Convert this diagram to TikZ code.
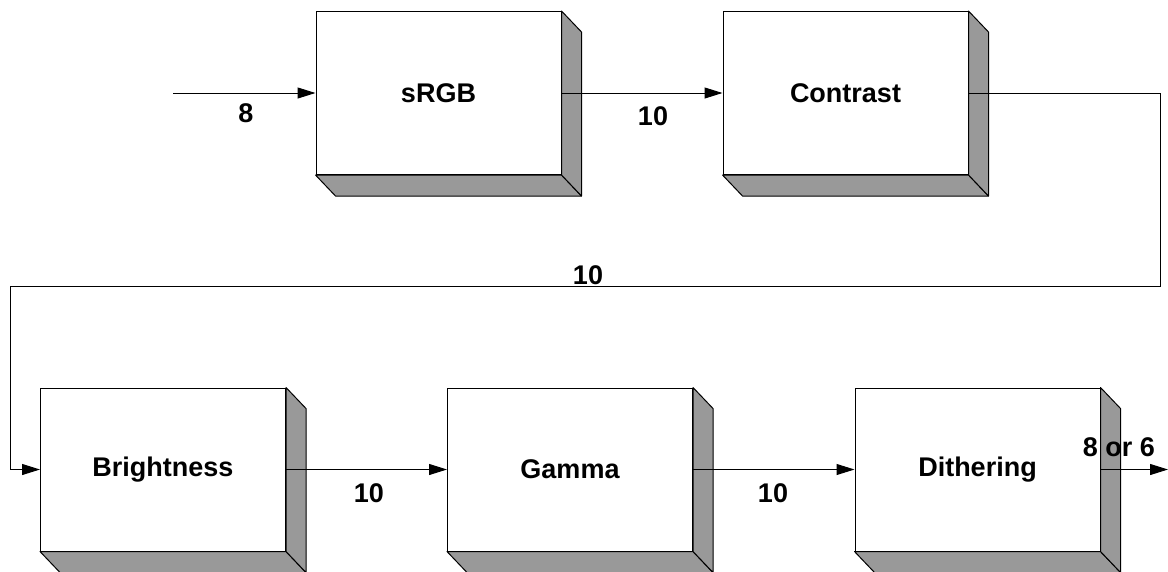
\documentclass[tikz,border=0pt]{standalone}
\usepackage{fontspec}
\setmainfont{Liberation Sans}
\usetikzlibrary{arrows.meta}
\definecolor{shade}{HTML}{999999}
\tikzset{
  x=1pt, y=-1pt,
  blk/.style={draw=black, line width=1pt, fill=white, minimum width=245pt, minimum height=163pt, inner sep=0pt, font=\fontsize{27}{32}\selectfont\bfseries},
  conn/.style={line width=1pt, -{Triangle[length=18pt,width=11pt]}},
  lbl/.style={font=\fontsize{27}{32}\selectfont\bfseries, inner sep=0pt},
  face/.style={fill=shade, draw=black, line width=1pt, line join=round}
}
\newcommand{\blockfaces}[1]{%
  \draw[face] (#1.south west) -- (#1.south east) -- ([shift={(20,21)}]#1.south east) -- ([shift={(20,21)}]#1.south west) -- cycle;
  \draw[face] (#1.north east) -- ([shift={(20,21)}]#1.north east) -- ([shift={(20,21)}]#1.south east) -- (#1.south east) -- cycle;
}
\begin{document}
\begin{tikzpicture}
\useasboundingbox (0,0) rectangle (1168,571);
\node[blk] (srgb) at (438.5,93) {sRGB};
\node[blk] (con) at (845.5,93) {Contrast};
\node[blk] (bri) at (163,469.5) {Brightness};
\node[blk] (gam) at (570,469.5) {Gamma};
\node[blk] (dit) at (977.5,469.5) {Dithering};
\blockfaces{srgb}
\blockfaces{con}
\blockfaces{bri}
\blockfaces{gam}
\blockfaces{dit}
\coordinate (in) at (173,93);
\coordinate (c1) at (1160,93);
\coordinate (c2) at (1160,286);
\coordinate (c3) at (10,286);
\coordinate (c4) at (10,469.5);
\coordinate (out) at (1168,469.5);
\draw[conn] (in) -- (srgb.west);
\draw[conn] (srgb.east) -- (con.west);
\draw[conn] (con.east) -- (c1) -- (c2) -- (c3) -- (c4) -- (bri.west);
\draw[conn] (bri.east) -- (gam.west);
\draw[conn] (gam.east) -- (dit.west);
\draw[conn] (dit.east) -- (out);
\node[lbl] (l1) at (246,113) {8};
\node[lbl] (l2) at (653,116) {10};
\node[lbl] (l3) at (588,275) {10};
\node[lbl] (l4) at (369,493) {10};
\node[lbl] (l5) at (773,493) {10};
\node[lbl] (l6) at (1119,447) {8 or 6};
\end{tikzpicture}
\end{document}
